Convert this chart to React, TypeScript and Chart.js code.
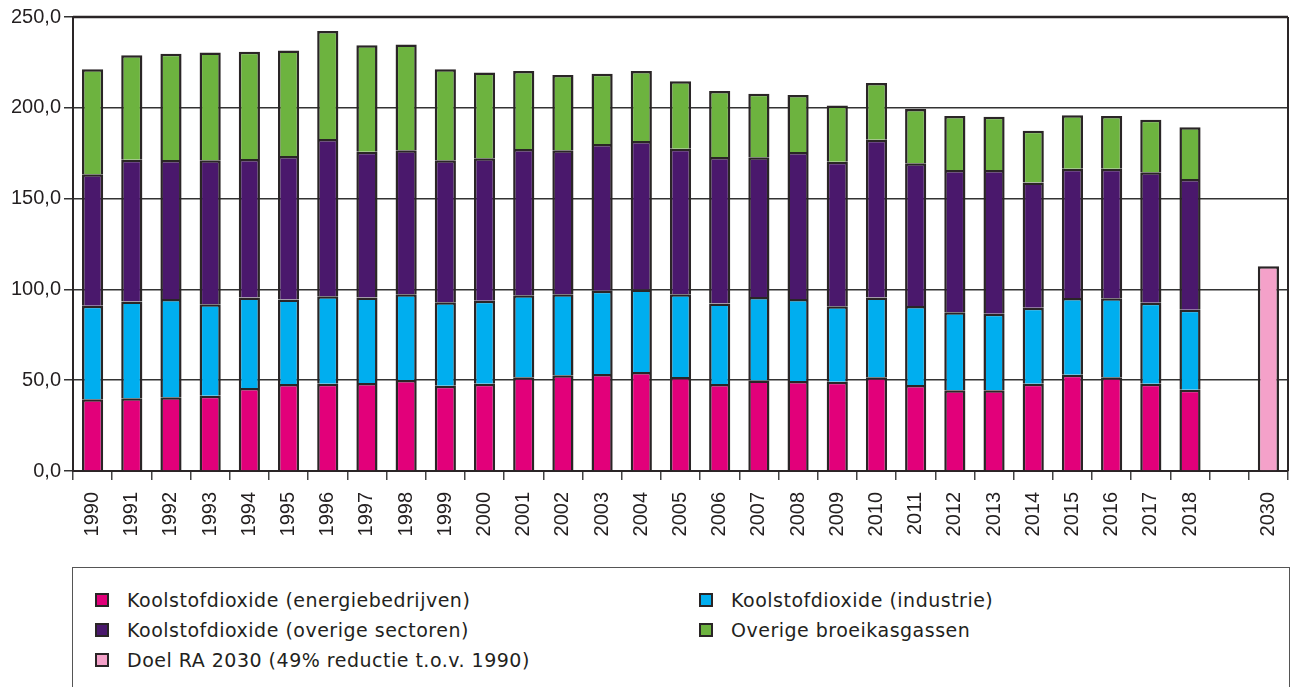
import React, { useEffect, useRef } from "react";
import { Chart, registerables } from "chart.js";

Chart.register(...registerables);

const categories = [
  "1990", "1991", "1992", "1993", "1994", "1995", "1996", "1997", "1998", "1999",
  "2000", "2001", "2002", "2003", "2004", "2005", "2006", "2007", "2008", "2009",
  "2010", "2011", "2012", "2013", "2014", "2015", "2016", "2017", "2018", "", "2030",
];

const energie = [39.5, 40.0, 40.6, 41.5, 45.7, 47.9, 48.1, 48.5, 50.1, 47.0, 48.1, 51.6, 52.7, 53.4, 54.5, 51.8, 47.9, 49.9, 49.6, 49.2, 51.6, 47.4, 44.4, 44.4, 48.1, 53.0, 51.6, 48.1, 44.8, null, null];
const industrie = [51.5, 53.4, 54.1, 50.3, 49.8, 46.5, 48.1, 47.0, 47.2, 45.9, 45.7, 45.2, 44.6, 45.9, 45.5, 45.5, 44.4, 45.9, 45.1, 41.5, 43.9, 43.5, 43.0, 42.2, 41.8, 42.3, 43.5, 44.6, 44.0, null, null];
const overigeSectoren = [72.4, 78.0, 76.6, 79.3, 76.3, 79.1, 86.6, 80.3, 79.3, 78.2, 78.4, 80.5, 79.3, 80.8, 81.7, 80.2, 80.6, 77.0, 81.0, 79.6, 86.9, 78.5, 78.3, 79.1, 68.9, 71.2, 71.4, 71.8, 72.0, null, null];
const broeikasgassen = [57.8, 57.5, 58.5, 59.4, 59.1, 58.0, 59.5, 58.6, 58.2, 50.1, 47.3, 43.0, 41.5, 38.7, 38.6, 37.1, 36.4, 35.0, 31.3, 30.9, 31.3, 29.9, 29.8, 29.4, 28.6, 29.4, 29.0, 28.9, 28.5, null, null];
const doel2030 = [null, null, null, null, null, null, null, null, null, null, null, null, null, null, null, null, null, null, null, null, null, null, null, null, null, null, null, null, null, null, 112.7];

const yTicks = [0, 50, 100, 150, 200, 250];

const seriesNames = [
  "Koolstofdioxide (energiebedrijven)",
  "Koolstofdioxide (industrie)",
  "Koolstofdioxide (overige sectoren)",
  "Overige broeikasgassen",
  "Doel RA 2030 (49% reductie t.o.v. 1990)",
];
const seriesColors = ["#e2007a", "#00aeef", "#4a186c", "#6db33f", "#f4a1c9"];

const DARK = "#2a2526";
const FONT = "'Liberation Sans', Arial, sans-serif";
const LEGEND_FONT = "'DejaVu Sans', 'Liberation Sans', sans-serif";

const frameLines = {
  id: "frameLines",
  afterDatasetsDraw(chart: any) {
    const { ctx, chartArea } = chart;
    ctx.save();
    ctx.strokeStyle = DARK;
    ctx.lineWidth = 2.5;
    ctx.beginPath();
    ctx.moveTo(chartArea.left, chartArea.top);
    ctx.lineTo(chartArea.right, chartArea.top);
    ctx.stroke();
    ctx.lineWidth = 2;
    ctx.beginPath();
    ctx.moveTo(chartArea.right, chartArea.top);
    ctx.lineTo(chartArea.right, chartArea.bottom);
    ctx.stroke();
    ctx.restore();
  },
};

function LegendItem({ color, label }: { color: string; label: string }) {
  return (
    <div style={{ display: "flex", alignItems: "center", height: 30 }}>
      <span
        style={{
          display: "inline-block",
          width: 10,
          height: 10,
          background: color,
          border: `2px solid ${DARK}`,
          marginRight: 18,
        }}
      />
      <span>{label}</span>
    </div>
  );
}

export default function App() {
  const ref = useRef<HTMLCanvasElement | null>(null);

  useEffect(() => {
    if (!ref.current) return;
    const datasets = [energie, industrie, overigeSectoren, broeikasgassen, doel2030].map((d, i) => ({
      label: seriesNames[i],
      data: d,
      backgroundColor: seriesColors[i],
      borderColor: DARK,
      borderWidth: 2.5,
      barPercentage: 0.54,
      categoryPercentage: 1,
    }));
    const chart = new Chart(ref.current, {
      type: "bar",
      data: { labels: categories, datasets },
      plugins: [frameLines],
      options: {
        animation: false,
        responsive: false,
        maintainAspectRatio: false,
        layout: { padding: { top: 17, right: 2, left: 0, bottom: 0 } },
        plugins: { legend: { display: false }, tooltip: { enabled: false } },
        scales: {
          x: {
            stacked: true,
            afterFit: (s: any) => {
              s.height = 89;
              s.paddingLeft = 0;
              s.paddingRight = 0;
            },
            grid: {
              display: true,
              offset: true,
              drawOnChartArea: false,
              drawTicks: true,
              tickLength: 9,
              color: "#444",
              lineWidth: 1.5,
            },
            border: { color: DARK, width: 2 },
            ticks: {
              autoSkip: false,
              minRotation: 90,
              maxRotation: 90,
              padding: 12,
              color: "#231f20",
              font: { family: FONT, size: 20 },
            },
          },
          y: {
            stacked: true,
            min: 0,
            max: 250,
            afterFit: (s: any) => {
              s.width = 73;
            },
            afterBuildTicks: (s: any) => {
              s.ticks = yTicks.map((v) => ({ value: v }));
            },
            grid: {
              color: "#333",
              lineWidth: 1.5,
              drawTicks: true,
              tickLength: 9,
            },
            border: { color: DARK, width: 2 },
            ticks: {
              padding: 3,
              color: "#231f20",
              font: { family: FONT, size: 20 },
              callback: (v: any) => Number(v).toFixed(1).replace(".", ","),
            },
          },
        },
      },
    });
    return () => chart.destroy();
  }, []);

  return (
    <div
      style={{
        position: "absolute",
        left: 0,
        top: 0,
        width: 1290,
        height: 687,
        background: "#fff",
        overflow: "hidden",
        fontFamily: LEGEND_FONT,
        color: "#231f20",
      }}
    >
      <canvas ref={ref} width={1290} height={560} style={{ position: "absolute", left: 0, top: 0 }} />
      <div
        style={{
          position: "absolute",
          left: 72,
          top: 567,
          width: 1216,
          height: 140,
          border: "1px solid #555",
          fontSize: 19,
          letterSpacing: 0.5,
        }}
      >
        <div style={{ position: "absolute", left: 22, top: 17 }}>
          <LegendItem color={seriesColors[0]} label={seriesNames[0]} />
          <LegendItem color={seriesColors[2]} label={seriesNames[2]} />
          <LegendItem color={seriesColors[4]} label={seriesNames[4]} />
        </div>
        <div style={{ position: "absolute", left: 626, top: 17 }}>
          <LegendItem color={seriesColors[1]} label={seriesNames[1]} />
          <LegendItem color={seriesColors[3]} label={seriesNames[3]} />
        </div>
      </div>
    </div>
  );
}
